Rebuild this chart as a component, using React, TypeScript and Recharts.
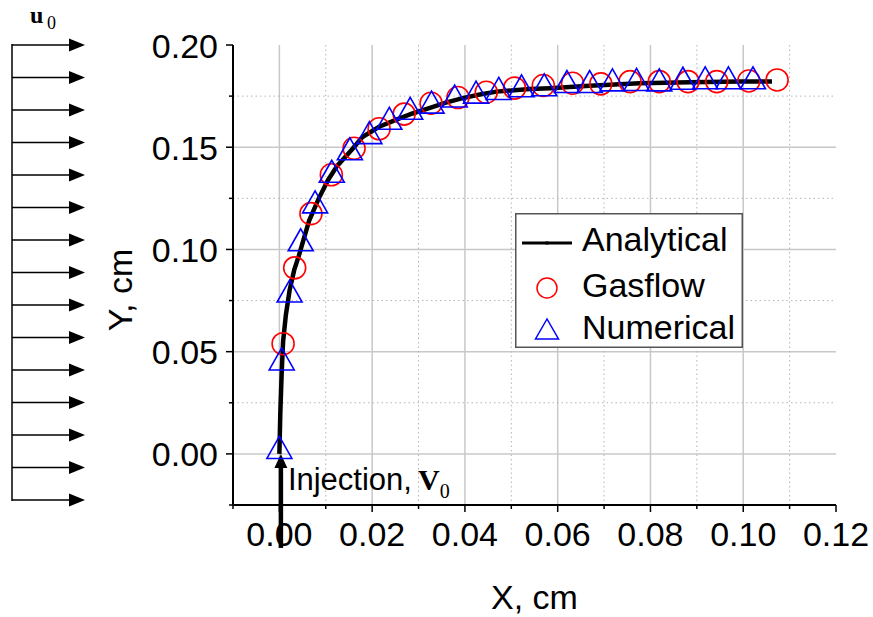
import { ComposedChart, Scatter, XAxis, YAxis, CartesianGrid, Legend, ReferenceLine } from "recharts";

const analyticalX = [0, 0.0002, 0.0005, 0.0008, 0.0014, 0.0022, 0.0032, 0.0042, 0.0064, 0.0085, 0.0105, 0.0125, 0.0157, 0.0179, 0.0215, 0.0251, 0.0287, 0.0323, 0.0359, 0.0395, 0.0432, 0.0468, 0.054, 0.0583, 0.0669, 0.0777, 0.0885, 0.0993, 0.1062];
const analyticalY = [0, 0.02, 0.04, 0.055, 0.068, 0.08, 0.09, 0.097, 0.114, 0.125, 0.134, 0.141, 0.149, 0.155, 0.16, 0.1634, 0.1665, 0.1691, 0.1718, 0.174, 0.1758, 0.1772, 0.1785, 0.1789, 0.1801, 0.1813, 0.1818, 0.1821, 0.1822];

const gasflowX = [0.0008, 0.0033, 0.0068, 0.0112, 0.0161, 0.0215, 0.0269, 0.0327, 0.0385, 0.0446, 0.0507, 0.0569, 0.0632, 0.0693, 0.0756, 0.0819, 0.0881, 0.0943, 0.1012, 0.1073];
const gasflowY = [0.0539, 0.091, 0.1175, 0.1365, 0.1495, 0.159, 0.1662, 0.1715, 0.1743, 0.1769, 0.1789, 0.1802, 0.1813, 0.181, 0.1821, 0.1821, 0.1821, 0.1821, 0.1824, 0.1829];

const numericalX = [0.0, 0.0005, 0.0022, 0.0046, 0.0077, 0.0113, 0.0152, 0.0194, 0.0237, 0.0282, 0.0328, 0.0378, 0.0424, 0.0473, 0.0522, 0.0571, 0.062, 0.0669, 0.0718, 0.077, 0.0819, 0.087, 0.0918, 0.0968, 0.1021];
const numericalY = [0.0029, 0.0462, 0.0794, 0.1045, 0.123, 0.138, 0.149, 0.1569, 0.1639, 0.1688, 0.1718, 0.1748, 0.1767, 0.1785, 0.1798, 0.1803, 0.1819, 0.1819, 0.1827, 0.1829, 0.1827, 0.1835, 0.1837, 0.1837, 0.1837];

const xTicks = [-0.01, 0, 0.01, 0.02, 0.03, 0.04, 0.05, 0.06, 0.07, 0.08, 0.09, 0.1, 0.11, 0.12];
const yTicks = [-0.025, 0, 0.025, 0.05, 0.075, 0.1, 0.125, 0.15, 0.175, 0.2];
const xMajorGrid = [0, 0.02, 0.04, 0.06, 0.08, 0.1];
const xMinorGrid = [0.01, 0.03, 0.05, 0.07, 0.09, 0.11];
const yMajorGrid = [0, 0.05, 0.1, 0.15];
const yMinorGrid = [0.025, 0.075, 0.125, 0.175];

const zip = (xs: number[], ys: number[]) => xs.map((x, i) => ({ x, y: ys[i] }));
const analytical = zip(analyticalX, analyticalY);
const gasflow = zip(gasflowX, gasflowY);
const numerical = zip(numericalX, numericalY);

const SANS = "'Liberation Sans', Arial, sans-serif";
const SERIF = "'Liberation Serif', 'Times New Roman', serif";

const XTick = (props: any) => {
  const { x, y, payload } = props;
  const v = payload.value;
  const major = Math.round(v * 100) % 2 === 0;
  return (
    <g>
      <line x1={x} x2={x} y1={y} y2={y + (major ? 7 : 4)} stroke="#000" strokeWidth={1.5} />
      {major && (
        <text x={x} y={y + 41} textAnchor="middle" fontSize={34} fontFamily={SANS} fill="#000">
          {v.toFixed(2)}
        </text>
      )}
    </g>
  );
};

const YTick = (props: any) => {
  const { x, y, payload } = props;
  const v = payload.value;
  const major = Math.round(v * 1000) % 50 === 0;
  return (
    <g>
      <line x1={x - (major ? 7 : 4)} x2={x} y1={y} y2={y} stroke="#000" strokeWidth={1.5} />
      {major && (
        <text x={x - 15} y={y + 12.5} textAnchor="end" fontSize={34} fontFamily={SANS} fill="#000">
          {v.toFixed(2)}
        </text>
      )}
    </g>
  );
};

const Circle = (props: any) => (
  <circle cx={props.cx} cy={props.cy} r={11} fill="none" stroke="#ff0000" strokeWidth={1.6} />
);

const Triangle = (props: any) => {
  const { cx, cy } = props;
  return (
    <polygon
      points={`${cx},${cy - 11.5} ${cx - 12.5},${cy + 10.5} ${cx + 12.5},${cy + 10.5}`}
      fill="none"
      stroke="#0000ff"
      strokeWidth={1.6}
    />
  );
};

const InjectionArrow = (props: any) => {
  const { x1, y1, y2 } = props;
  const x = x1 + 1.5;
  return (
    <g>
      <line x1={x} x2={x} y1={y1} y2={y2 + 12} stroke="#000" strokeWidth={4.5} />
      <polygon points={`${x},${y2} ${x - 6.5},${y2 + 14} ${x + 6.5},${y2 + 14}`} fill="#000" />
      <text x={x + 7} y={y2 + 36} fontSize={31} fontFamily={SANS} fill="#000">
        Injection,
        <tspan dx={6} fontFamily={SERIF} fontWeight="bold" fontSize={30}>V</tspan>
        <tspan dy={8} fontFamily={SERIF} fontSize={20}>0</tspan>
      </text>
    </g>
  );
};

const LegendBox = (props: any) => {
  const names = (props.payload && props.payload.length ? props.payload.map((p: any) => p.value) : ["Analytical", "Gasflow", "Numerical"]);
  const baselines = [38, 84, 126];
  return (
    <svg width={228} height={135} style={{ display: "block" }}>
      <rect x={0.75} y={0.75} width={226.5} height={133.5} fill="#fff" stroke="#555" strokeWidth={1.5} />
      <line x1={7} x2={57} y1={30} y2={30} stroke="#000" strokeWidth={3} />
      <rect x={30.5} y={28.5} width={3} height={3} fill="#000" />
      <circle cx={32} cy={75} r={10} fill="none" stroke="#ff0000" strokeWidth={1.5} />
      <polygon points="32,106 20.5,126 43.5,126" fill="none" stroke="#0000ff" strokeWidth={1.5} />
      {names.map((n: string, i: number) => (
        <text key={n} x={67} y={baselines[i]} fontSize={34} fontFamily={SANS} fill="#000">
          {n}
        </text>
      ))}
    </svg>
  );
};

const YLabel = (props: any) => {
  const vb = props.viewBox || {};
  const cx = vb.x + 7;
  const cy = vb.y + vb.height / 2 + 15;
  return (
    <text x={cx} y={cy} transform={`rotate(-90 ${cx} ${cy})`} textAnchor="middle" dominantBaseline="central" fontSize={34} fontFamily={SANS} fill="#000">
      Y, cm
    </text>
  );
};

const XLabel = (props: any) => {
  const vb = props.viewBox || {};
  return (
    <text x={vb.x + vb.width / 2} y={vb.y + 104} textAnchor="middle" fontSize={34} fontFamily={SANS} fill="#000">
      X, cm
    </text>
  );
};

const arrowYs = Array.from({ length: 15 }, (_, i) => 45 + i * 32.5);

export default function App() {
  return (
    <div style={{ position: "relative", width: 873, height: 617, background: "#fff" }}>
      <style>{"body{margin:0}"}</style>
      <ComposedChart width={873} height={617} margin={{ top: 45, right: 37, bottom: 42, left: 113 }}>
        <CartesianGrid horizontalValues={yMajorGrid} verticalValues={xMajorGrid} stroke="#c8c8c8" strokeWidth={1.5} fill="none" />
        <CartesianGrid horizontalValues={yMinorGrid} verticalValues={xMinorGrid} stroke="#b4b4b4" strokeWidth={1} strokeDasharray="1.5 3" fill="none" />
        <XAxis
          type="number"
          dataKey="x"
          domain={[-0.01, 0.12]}
          ticks={xTicks}
          interval={0}
          allowDataOverflow
          height={70}
          tickSize={0}
          tickMargin={0}
          tickLine={false}
          tick={<XTick />}
          axisLine={{ stroke: "#000", strokeWidth: 2 }}
          label={<XLabel />}
        />
        <YAxis
          type="number"
          dataKey="y"
          domain={[-0.025, 0.2]}
          ticks={yTicks}
          interval={0}
          allowDataOverflow
          width={120}
          tickSize={0}
          tickMargin={0}
          tickLine={false}
          tick={<YTick />}
          axisLine={{ stroke: "#000", strokeWidth: 2 }}
          label={<YLabel />}
        />
        <Scatter
          name="Analytical"
          data={analytical}
          line={{ stroke: "#000", strokeWidth: 4.5 }}
          shape={() => <g />}
          isAnimationActive={false}
        />
        <Scatter name="Gasflow" data={gasflow} shape={<Circle />} isAnimationActive={false} />
        <Scatter name="Numerical" data={numerical} shape={<Triangle />} isAnimationActive={false} />
        <ReferenceLine
          segment={[{ x: 0, y: -0.046 }, { x: 0, y: 0 }]}
          ifOverflow="visible"
          shape={<InjectionArrow />}
        />
        <Legend
          layout="horizontal"
          verticalAlign="middle"
          align="center"
          content={<LegendBox />}
          wrapperStyle={{ left: 515, top: 213, width: 228, height: 135 }}
        />
      </ComposedChart>
      <svg width={100} height={617} style={{ position: "absolute", left: 0, top: 0, pointerEvents: "none" }}>
        <text x={30} y={23} fontSize={24} fontWeight="bold" fontFamily={SERIF} fill="#000">u</text>
        <text x={47} y={29} fontSize={18} fontFamily={SERIF} fill="#000">0</text>
        <line x1={12} x2={12} y1={44} y2={501} stroke="#000" strokeWidth={1.5} />
        {arrowYs.map((y) => (
          <g key={y}>
            <line x1={12} x2={72} y1={y} y2={y} stroke="#000" strokeWidth={1.5} />
            <polygon points={`85,${y} 69,${y - 6.5} 69,${y + 6.5}`} fill="#000" />
          </g>
        ))}
      </svg>
    </div>
  );
}
